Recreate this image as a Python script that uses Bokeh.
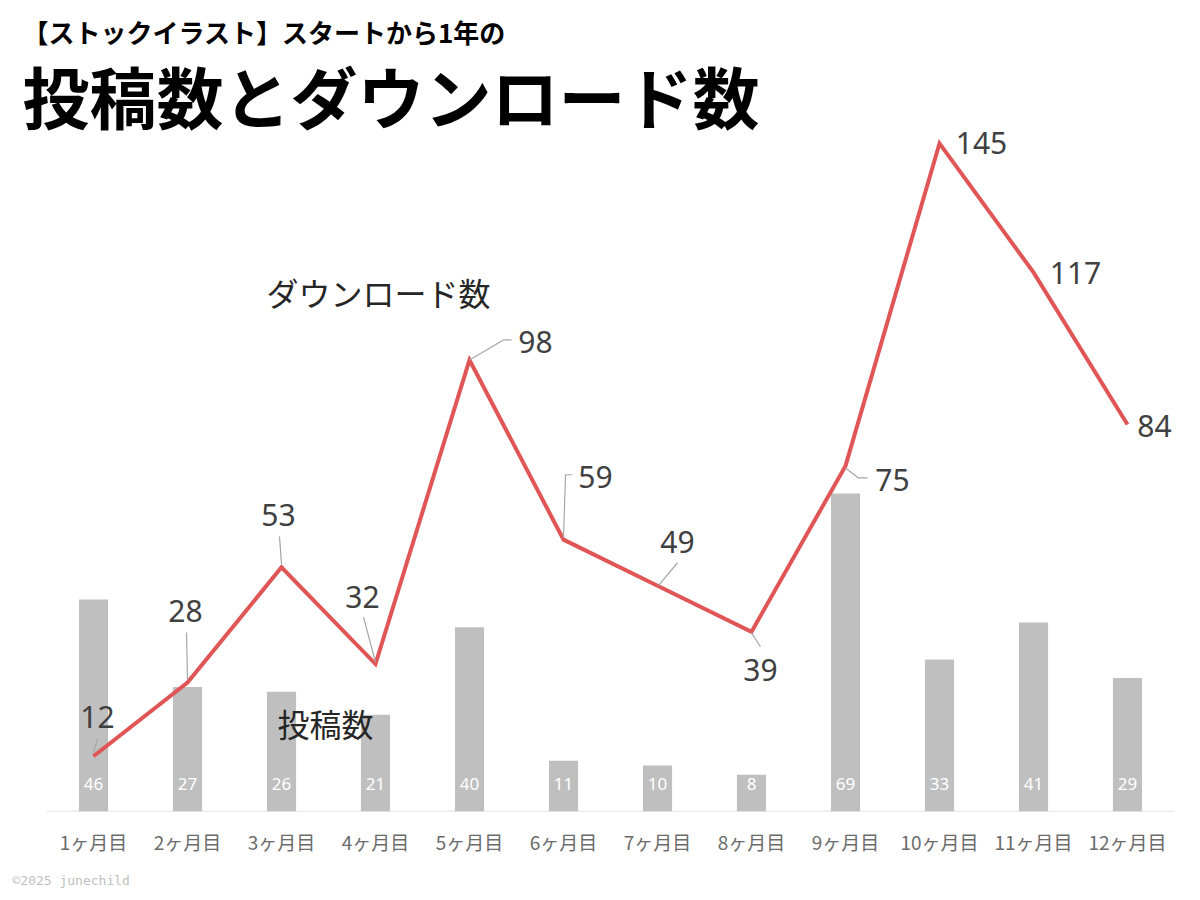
from bokeh.core.properties import value
from bokeh.embed import file_html
from bokeh.models import ColumnDataSource, Label, Range1d, Title
from bokeh.plotting import figure
from bokeh.resources import INLINE

months = ["1ヶ月目", "2ヶ月目", "3ヶ月目", "4ヶ月目", "5ヶ月目", "6ヶ月目",
          "7ヶ月目", "8ヶ月目", "9ヶ月目", "10ヶ月目", "11ヶ月目", "12ヶ月目"]
uploads = [46, 27, 26, 21, 40, 11, 10, 8, 69, 33, 41, 29]
downloads = [12, 28, 53, 32, 98, 59, 49, 39, 75, 145, 117, 84]

# label placement (pixels from the point, y down) and leader paths
label_off = [(4, -39), (-2, -71), (-3, -52), (-13, -67), (66, -18), (32, -63),
             (20, -44), (9, 38), (47, 14), (42, 0), (42, 1), (27, 2)]
leaders = [
    [(0, -4), (4, -17)],
    [(0, -3), (-1, -50)],
    [(0, -3), (-2, -31)],
    [(0, -2), (-12, -47)],
    [(0, 0), (34, -20), (42, -20)],
    [(0, -2), (2, -65), (9, -65)],
    [(1, 0), (20, -23)],
    [(0, 1), (9, 15)],
    [(0, 2), (13, 12), (22, 12)],
    None, None, None,
]

W, H = 1200, 900
PAD_L, PAD_R, BOTTOM = 46, 26, 88
n = len(months)
px_x = (W - PAD_L - PAD_R) / n
px_y = 692 / 150
YMAX = (H - BOTTOM) / px_y

xs = list(range(1, n + 1))

p = figure(width=W, height=H, output_backend="svg", toolbar_location=None,
           title=None,
           x_range=Range1d(0.5 - PAD_L / px_x, n + 0.5 + PAD_R / px_x),
           y_range=Range1d(0, YMAX),
           min_border_left=0, min_border_right=0,
           min_border_top=0, min_border_bottom=BOTTOM)
p.outline_line_color = None
p.grid.visible = False
p.yaxis.visible = False
p.background_fill_color = "white"
p.border_fill_color = "white"

ax = p.xaxis[0]
ax.ticker = xs
ax.major_label_overrides = {x: m for x, m in zip(xs, months)}
ax.major_tick_line_color = None
ax.minor_tick_line_color = None
ax.axis_line_color = None
ax.major_label_text_font = "Noto Sans CJK JP"
ax.major_label_text_font_size = "19px"
ax.major_label_text_color = "#6b6b6b"
ax.major_label_standoff = 10

# category axis baseline
p.segment(x0=0.5, x1=n + 0.5, y0=0, y1=0, line_color="#d9d9d9",
          line_width=1.5)

bars = ColumnDataSource(dict(x=xs, top=uploads, txt=[str(v) for v in uploads]))
p.vbar(x="x", top="top", width=0.31, source=bars, fill_color="#bfbfbf",
       line_color=None)
p.text(x="x", y=0, text="txt", source=bars, y_offset=-28,
       text_align="center", text_baseline="middle", text_color="white",
       text_font=value("Noto Sans"), text_font_size="17px")

p.line(xs, downloads, line_color="#e05656", line_width=4, line_join="miter")

lx, ly = [], []
for x, y, path in zip(xs, downloads, leaders):
    if path is None:
        continue
    lx.append([x + dx / px_x for dx, dy in path])
    ly.append([y - dy / px_y for dx, dy in path])
p.multi_line(lx, ly, line_color="#a6a6a6", line_width=1.2)

pts = ColumnDataSource(dict(x=xs, y=downloads, txt=[str(v) for v in downloads],
                            dx=[o[0] for o in label_off],
                            dy=[o[1] for o in label_off]))
p.text(x="x", y="y", text="txt", source=pts, x_offset="dx", y_offset="dy",
       text_align="center", text_baseline="middle", text_color="#404040",
       text_font=value("Noto Sans"), text_font_size="30px")

def add_label(text, x, y, size, color, font="Noto Sans CJK JP", style="normal",
              align="left"):
    # screen units: from the frame's left edge and bottom (axis line)
    p.add_layout(Label(x=x, y=y, x_units="screen", y_units="screen", text=text,
                       text_font=font, text_font_size=size, text_color=color,
                       text_font_style=style, text_align=align,
                       text_baseline="middle"))

add_label("【ストックイラスト】スタートから1年の", 22, 780, "26px", "black",
          style="bold")
add_label("投稿数とダウンロード数", 22, 717, "67px", "black", style="bold")
add_label("ダウンロード数", 378, 520, "32px", "#262626", align="center")
add_label("投稿数", 325, 89, "32px", "#262626", align="center")

p.add_layout(Title(text="©2025 junechild", align="left", offset=12,
                   text_font="DejaVu Sans Mono", text_font_size="13px",
                   text_font_style="normal", text_color="#c0c0c0",
                   standoff=26), "below")

open("out.html", "w").write(file_html(p, INLINE))
